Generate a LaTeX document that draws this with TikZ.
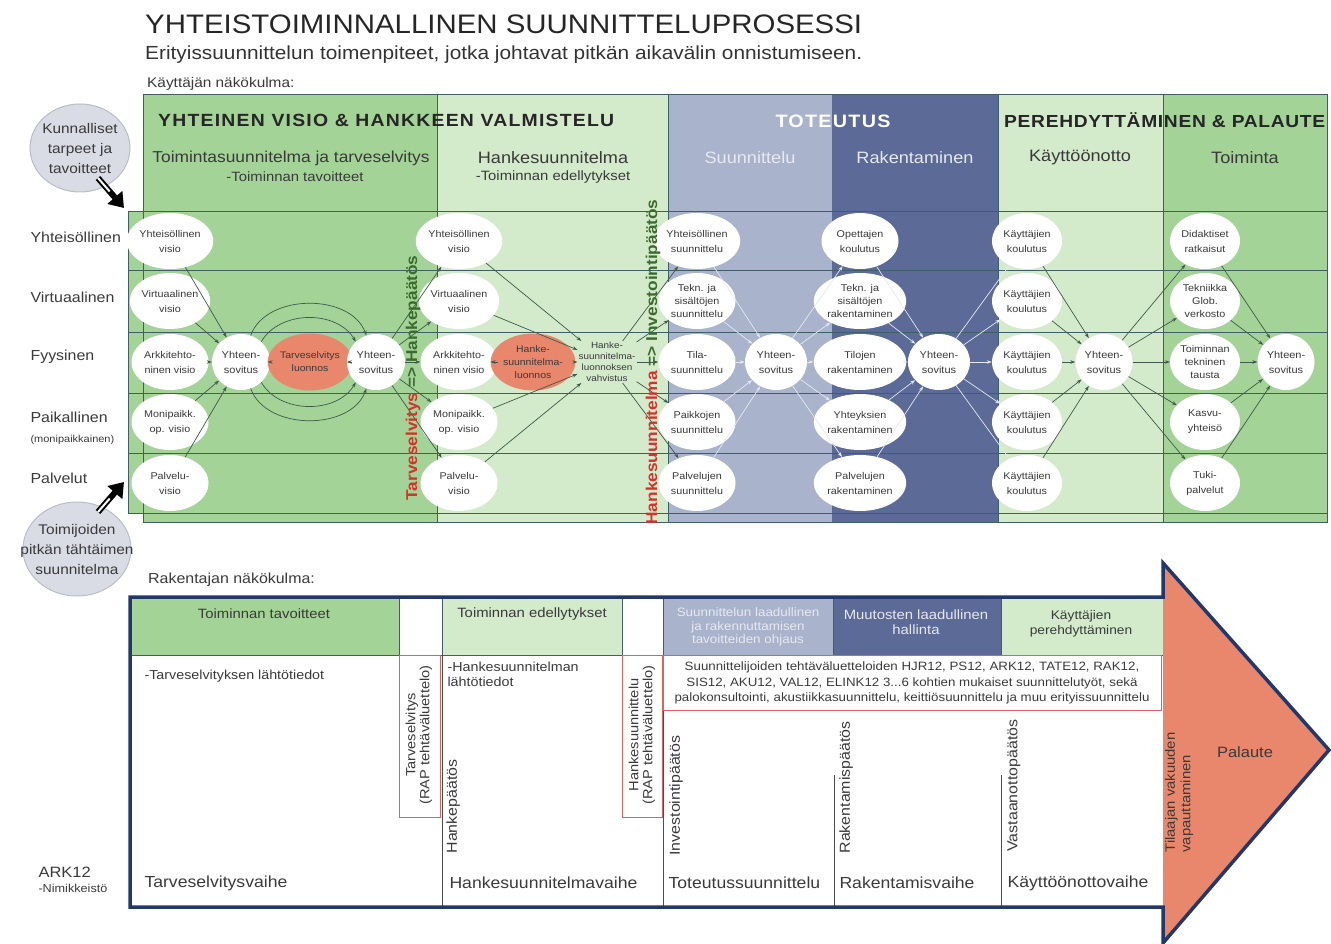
\documentclass[tikz,border=0pt]{standalone}
\usepackage{fontspec}
\setmainfont{Liberation Sans}[FakeStretch=1.1]
\usetikzlibrary{shapes.geometric,arrows.meta,calc}
\definecolor{gmid}{HTML}{A3D397}
\definecolor{glight}{HTML}{D3EBCB}
\definecolor{bluel}{HTML}{A9B3CC}
\definecolor{blued}{HTML}{5B6A96}
\definecolor{gridc}{HTML}{3F5E68}
\definecolor{salmon}{HTML}{E8876B}
\definecolor{navy}{HTML}{22386A}
\definecolor{txt}{HTML}{3A3A3A}
\definecolor{gcirc}{HTML}{D9DCE4}
\definecolor{gcircb}{HTML}{B9BDC8}
\definecolor{redl}{HTML}{D9302A}
\definecolor{greenl}{HTML}{3C6B2E}
\definecolor{arrc}{HTML}{3E5A48}
\definecolor{warr}{HTML}{E4E8F0}
\definecolor{redbox}{HTML}{E06060}
\definecolor{wtxt}{HTML}{E6E9F1}
\newcommand{\fs}[2]{\fontsize{#1}{#2}\selectfont}
\newcommand{\fitw}[2]{\resizebox{#1}{!}{#2}}
\begin{document}
\begin{tikzpicture}[x=1pt,y=-1pt,
  el/.style={ellipse,fill=white,draw=none,minimum width=77,minimum height=56,inner sep=0pt,align=center,text=txt,font=\fs{9.8}{15}},
  el3/.style={el,font=\fs{9.8}{13}},
  elb/.style={el,minimum width=70},
  elb3/.style={el3,minimum width=70},
  sy/.style={ellipse,fill=white,minimum width=60,minimum height=56,inner sep=0pt,align=center,text=txt,font=\fs{10}{15}},
  ora/.style={ellipse,fill=salmon,minimum width=65,minimum height=57,inner sep=0pt,align=center,text=txt,font=\fs{9.5}{13}},
  arr/.style={-{Stealth[length=5pt,width=3.5pt]},arrc,line width=0.7pt},
  warrow/.style={-{Stealth[length=5pt,width=3.5pt]},warr,line width=0.7pt},
  gline/.style={gridc,line width=1pt},
  lbl/.style={anchor=west,text=txt,font=\fs{14.5}{16}},
  gc/.style={ellipse,fill=gcirc,draw=gcircb,line width=1pt,inner sep=0pt},
  gct/.style={align=center,text=txt,inner sep=0pt,font=\fs{14}{20}},
  hd/.style={text=txt,font=\fs{16.5}{18}},
  hs/.style={text=txt,font=\fs{13.5}{15}},
  rot/.style={rotate=90,anchor=west,text=txt,font=\fs{14.5}{16}},
  phase/.style={anchor=west,text=txt,font=\fs{16}{18}},
]
\useasboundingbox (0,0) rectangle (1331,944);

% ---------- titles
\node[anchor=west,inner sep=0,text=black!85] (title) at (145,24) {\fitw{717pt}{\fs{28}{30}YHTEISTOIMINNALLINEN SUUNNITTELUPROSESSI}};
\node[anchor=west,inner sep=0,text=black!80] (sub) at (145,55) {\fitw{717pt}{\fs{18}{20}Erityissuunnittelun toimenpiteet, jotka johtavat pitkän aikavälin onnistumiseen.}};
\node[anchor=west,inner sep=0,text=txt,font=\fs{14}{16}] (kn) at (147,84) {Käyttäjän näkökulma:};

% ---------- upper panel fills
\fill[gmid] (143,95) rectangle (437,522);
\fill[glight] (437,95) rectangle (668,522);
\fill[bluel] (668,95) rectangle (832,522);
\fill[blued] (832,95) rectangle (998,522);
\fill[glight] (998,95) rectangle (1163,522);
\fill[gmid] (1163,95) rectangle (1327,522);
\fill[gmid] (128,212) rectangle (143,513);
\draw[gline] (143,95) rectangle (1327,522);
\draw[gline] (128,212) rectangle (1327,513);
\foreach \yy in {271,332,393,453} \draw[gline] (128,\yy) -- (1327,\yy);
\foreach \xx in {437,668,998,1163} \draw[gline] (\xx,95) -- (\xx,522);

% ---------- upper headers
\node[anchor=west,inner sep=0,text=black!85] (h1) at (158,120) {\fitw{456pt}{\bfseries\addfontfeatures{LetterSpace=7}\fs{19}{20}YHTEINEN VISIO \& HANKKEEN VALMISTELU}};
\node[inner sep=0,text=white] (h2) at (833,121) {\fitw{115pt}{\bfseries\addfontfeatures{LetterSpace=7}\fs{19}{20}TOTEUTUS}};
\node[anchor=west,inner sep=0,text=black!85] (h3) at (1004,120) {\fitw{321pt}{\bfseries\addfontfeatures{LetterSpace=4}\fs{19}{20}PEREHDYTTÄMINEN \& PALAUTE}};
\node[hd,font=\fs{15.8}{18}] (s1) at (291,158) {Toimintasuunnitelma ja tarveselvitys};
\node[hs] (s1b) at (295,177) {-Toiminnan tavoitteet};
\node[hd] (s2) at (553,158) {Hankesuunnitelma};
\node[hs] (s2b) at (553,177) {-Toiminnan edellytykset};
\node[hd,text=wtxt] (s3) at (750,158) {Suunnittelu};
\node[hd,text=wtxt] (s4) at (915,158) {Rakentaminen};
\node[hd] (s5) at (1080,158) {Käyttöönotto};
\node[hd] (s6) at (1245,158) {Toiminta};

% ---------- row labels
\node[lbl] (r1) at (27,237) {Yhteisöllinen};
\node[lbl] (r2) at (27,297) {Virtuaalinen};
\node[lbl] (r3) at (27,357) {Fyysinen};
\node[lbl] (r4) at (27,417) {Paikallinen};
\node[anchor=west,text=txt,font=\fs{10}{11}] (r4b) at (27,440) {(monipaikkainen)};
\node[lbl] (r5) at (27,478) {Palvelut};

% ---------- gray circles
\node[gc,minimum width=100,minimum height=88] (kt) at (80,148) {};
\node[gct] (ktt) at (kt.center) {Kunnalliset\\tarpeet ja\\tavoitteet};
\node[gc,minimum width=108,minimum height=94] (tp) at (77,549) {};
\node[gct] (tpt) at (tp.center) {Toimijoiden\\pitkän tähtäimen\\suunnitelma};
\coordinate (k1) at (98,178);
\coordinate (k2) at (124,208);
\coordinate (k3) at (98,512);
\coordinate (k4) at (124,482);
\draw[black,line width=6pt,-{Triangle[length=14pt,width=19pt]}] (k1) -- (k2);
\draw[white,line width=2pt] (k1) -- ($(k1)!0.45!(k2)$);
\draw[black,line width=6pt,-{Triangle[length=14pt,width=19pt]}] (k3) -- (k4);
\draw[white,line width=2pt] (k3) -- ($(k3)!0.45!(k4)$);

% ---------- column 1 nodes
\node[el] (a1) at (170,241) {Yhteisöllinen\\visio};
\node[el] (a2) at (170,301) {Virtuaalinen\\visio};
\node[el] (a3) at (170,362) {Arkkitehto-\\ninen visio};
\node[el] (a4) at (170,422) {Monipaikk.\\op. visio};
\node[el] (a5) at (170,483) {Palvelu-\\visio};
\node[sy,minimum width=58] (ay1) at (241,362) {Yhteen-\\sovitus};
\node[ora] (ao) at (310,362) {Tarveselvitys\\luonnos};
\node[sy,minimum width=58] (ay2) at (376,362) {Yhteen-\\sovitus};
% ---------- column 2 nodes
\node[el] (b1) at (459,241) {Yhteisöllinen\\visio};
\node[el] (b2) at (459,301) {Virtuaalinen\\visio};
\node[el] (b3) at (459,362) {Arkkitehto-\\ninen visio};
\node[el] (b4) at (459,422) {Monipaikk.\\op. visio};
\node[el] (b5) at (459,483) {Palvelu-\\visio};
\node[ora,minimum width=67] (bo) at (533,362) {Hanke-\\suunnitelma-\\luonnos};
\node[align=center,text=txt,font=\fs{9}{11},inner sep=1pt] (bv) at (607,362) {Hanke-\\suunnitelma-\\luonnoksen\\vahvistus};
% ---------- column 3 nodes
\node[el] (c1) at (697,241) {Yhteisöllinen\\suunnittelu};
\node[el3] (c2) at (697,301) {Tekn. ja\\sisältöjen\\suunnittelu};
\node[el] (c3) at (697,362) {Tila-\\suunnittelu};
\node[el] (c4) at (697,422) {Paikkojen\\suunnittelu};
\node[el] (c5) at (697,483) {Palvelujen\\suunnittelu};
\node[sy,minimum width=62] (cy) at (776,362) {Yhteen-\\sovitus};
% ---------- column 4 nodes
\node[el] (d1) at (860,241) {Opettajen\\koulutus};
\node[el3] (d2) at (860,301) {Tekn. ja\\sisältöjen\\rakentaminen};
\node[el] (d3) at (860,362) {Tilojen\\rakentaminen};
\node[el] (d4) at (860,422) {Yhteyksien\\rakentaminen};
\node[el] (d5) at (860,483) {Palvelujen\\rakentaminen};
\node[sy,minimum width=62] (dy) at (939,362) {Yhteen-\\sovitus};
% ---------- column 5 nodes
\node[elb] (e1) at (1027,241) {Käyttäjien\\koulutus};
\node[elb] (e2) at (1027,301) {Käyttäjien\\koulutus};
\node[elb] (e3) at (1027,362) {Käyttäjien\\koulutus};
\node[elb] (e4) at (1027,422) {Käyttäjien\\koulutus};
\node[elb] (e5) at (1027,483) {Käyttäjien\\koulutus};
\node[sy,minimum width=57] (ey) at (1104,362) {Yhteen-\\sovitus};
% ---------- column 6 nodes
\node[elb] (f1) at (1205,241) {Didaktiset\\ratkaisut};
\node[elb3] (f2) at (1205,301) {Tekniikka\\Glob.\\verkosto};
\node[elb3] (f3) at (1205,362) {Toiminnan\\tekninen\\tausta};
\node[elb] (f4) at (1205,422) {Kasvu-\\yhteisö};
\node[elb] (f5) at (1205,483) {Tuki-\\palvelut};
\node[sy,minimum width=57] (fy) at (1286,362) {Yhteen-\\sovitus};

% ---------- connectors
\foreach \i in {1,...,5} {
  \draw[arr] (a\i) -- (ay1);
  \draw[arr] (ay2) -- (b\i);
  \draw[arr] (bv) -- (c\i);
  \draw[warrow] (c\i) -- (cy);
  \draw[warrow] (cy) -- (d\i);
  \draw[warrow] (d\i) -- (dy);
  \draw[warrow] (dy) -- (e\i);
  \draw[arr] (e\i) -- (ey);
  \draw[arr] (ey) -- (f\i);
  \draw[arr] (f\i) -- (fy);
}
\foreach \i in {1,2,4,5} \draw[arr] (b\i) -- (bv);
\draw[arr] (b3) -- (bo);
\draw[arr] (bo) -- (bv);
\draw[arr] (ay1) -- (ao);
\draw[arr] (ao) -- (ay2);
\draw[arr] (ay1.70) to[out=70,in=110] (ay2.110);
\draw[arr] (ay1.45) to[out=60,in=120] (ay2.135);
\draw[arr] (ay1.-70) to[out=-70,in=-110] (ay2.-110);
\draw[arr] (ay1.-45) to[out=-60,in=-120] (ay2.-135);

% ---------- vertical decision labels
\node[rotate=90,inner sep=0] (v1) at (413,378) {\fitw{245pt}{\bfseries\fs{15}{16}\textcolor{redl}{Tarveselvitys} \textcolor{greenl}{=> Hankepäätös}}};
\node[rotate=90,inner sep=0] (v2) at (653,362) {\fitw{325pt}{\bfseries\fs{15}{16}\textcolor{redl}{Hankesuunnitelma} \textcolor{greenl}{=> Investointipäätös}}};

% ---------- lower panel
\node[anchor=west,inner sep=0,text=txt,font=\fs{14.5}{16}] (rn) at (148,580) {Rakentajan näkökulma:};
\fill[salmon] (1163,563) -- (1329,750) -- (1163,943) -- cycle;
\fill[gmid] (130,597) rectangle (399,655);
\fill[glight] (442,597) rectangle (622,655);
\fill[bluel] (663,597) rectangle (833,655);
\fill[blued] (833,597) rectangle (1001,655);
\fill[glight] (1001,597) rectangle (1163,655);
\draw[gridc,line width=0.8pt] (130,655) -- (1163,655);
\foreach \xx in {399,442,622,663,833,1001} \draw[gridc,line width=0.8pt] (\xx,597) -- (\xx,655);
\draw[black!70,line width=0.8pt] (442,655) -- (442,907);
\draw[black!70,line width=0.8pt] (663,655) -- (663,907);
\draw[black!70,line width=0.8pt] (834,775) -- (834,907);
\draw[black!70,line width=0.8pt] (1001,775) -- (1001,907);
\draw[redbox,line width=1pt] (399,655) rectangle (440,817);
\draw[redbox,line width=1pt] (622,655) rectangle (662,817);
\draw[redbox,line width=1pt] (663,655) rectangle (1161,710);
\draw[navy,line width=3.5pt,line join=miter] (130,597) -- (1163,597) -- (1163,563) -- (1329,750) -- (1163,943) -- (1163,907) -- (130,907) -- cycle;

\node[text=txt,font=\fs{13.5}{15}] (l1) at (264,614) {Toiminnan tavoitteet};
\node[text=txt,font=\fs{13.5}{15}] (l2) at (532,614) {Toiminnan edellytykset};
\node[align=center,text=wtxt,font=\fs{12.2}{13.5}] (l3) at (748,627) {Suunnittelun laadullinen\\ja rakennuttamisen\\tavoitteiden ohjaus};
\node[align=center,text=wtxt,font=\fs{13.5}{14.5}] (l4) at (916,622) {Muutosten laadullinen\\hallinta};
\node[align=center,text=txt,font=\fs{12.5}{14.5}] (l5) at (1081,624) {Käyttäjien\\perehdyttäminen};

\node[anchor=west,text=txt,font=\fs{13}{14}] (t1) at (141,676) {-Tarveselvityksen lähtötiedot};
\node[anchor=north west,align=left,text=txt,font=\fs{13}{15}] (t2) at (444,659) {-Hankesuunnitelman\\lähtötiedot};
\node[align=center,text=txt,font=\fs{12.1}{15.5}] (t3) at (912,683) {Suunnittelijoiden tehtäväluetteloiden HJR12, PS12, ARK12, TATE12, RAK12,\\SIS12, AKU12, VAL12, ELINK12 3...6 kohtien mukaiset suunnittelutyöt, sekä\\palokonsultointi, akustiikkasuunnittelu, keittiösuunnittelu ja muu erityissuunnittelu};

\node[rotate=90,align=center,text=txt,font=\fs{13.3}{14}] (rb1) at (419,735) {Tarveselvitys\\(RAP tehtäväluettelo)};
\node[rotate=90,align=center,text=txt,font=\fs{13.3}{14}] (rb2) at (642,735) {Hankesuunnittelu\\(RAP tehtäväluettelo)};
\node[rot] (p1) at (453,857) {Hankepäätös};
\node[rot] (p2) at (676,859) {Investointipäätös};
\node[rot] (p3) at (846,857) {Rakentamispäätös};
\node[rot] (p4) at (1014,855) {Vastaanottopäätös};
\node[rotate=90,anchor=west,align=left,text=txt,font=\fs{13.5}{15.5}] (p5) at (1179,856) {Tilaajan vakuuden\\vapauttaminen};
\node[text=txt,font=\fs{15}{17}] (pal) at (1245,752) {Palaute};

\node[phase] (v1p) at (141,883) {Tarveselvitysvaihe};
\node[phase] (v2p) at (446,883) {Hankesuunnitelmavaihe};
\node[phase] (v3p) at (665,883) {Toteutussuunnittelu};
\node[phase] (v4p) at (836,883) {Rakentamisvaihe};
\node[phase] (v5p) at (1004,883) {Käyttöönottovaihe};
\node[anchor=west,text=txt,font=\fs{15}{16}] (ark) at (35,872) {ARK12};
\node[anchor=west,text=txt,font=\fs{11.5}{12}] (nim) at (35,888) {-Nimikkeistö};
\end{tikzpicture}
\end{document}
